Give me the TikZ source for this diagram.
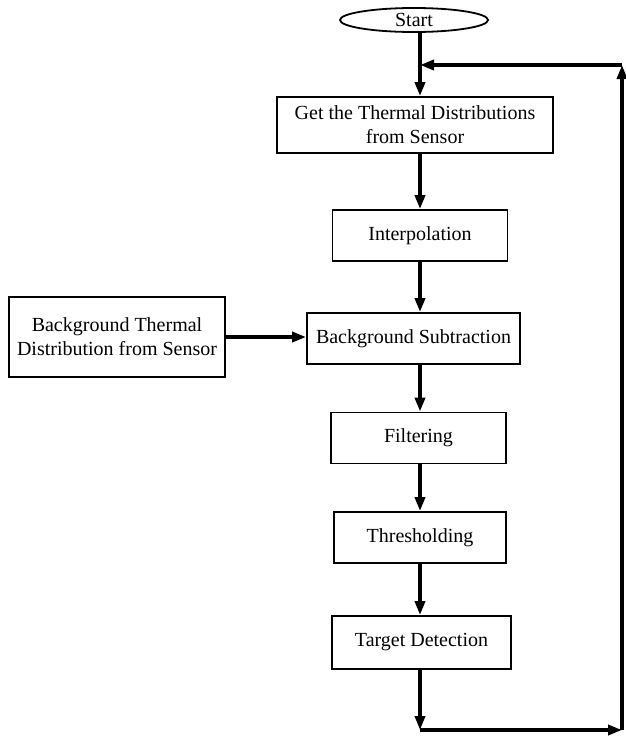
\documentclass[tikz,border=0pt]{standalone}
\usepackage{fontspec}
\setmainfont{Liberation Serif}
\usetikzlibrary{arrows.meta,shapes.geometric}
\begin{document}
\begin{tikzpicture}[x=1pt,y=-1pt,
  box/.style={draw,line width=1.8pt,minimum height=51pt,align=center,inner sep=0pt,font=\fontsize{20}{24}\selectfont},
  flow/.style={line width=3.5pt,-{Triangle[length=14pt,width=10pt]}}]
\useasboundingbox (0,0) rectangle (626,737);
\node[draw,ellipse,line width=1.8pt,minimum width=148pt,minimum height=24pt,inner sep=0pt,font=\fontsize{20}{24}\selectfont] (start) at (414,20) {Start};
\coordinate (j) at (420,65);
\node[box,minimum width=276pt,minimum height=56pt] (get) at (415,125) {Get the Thermal Distributions\\from Sensor};
\node[box,minimum width=175pt] (interp) at (420,235.5) {Interpolation};
\node[box,minimum width=213pt] (bs) at (413.5,338.5) {Background Subtraction};
\node[box,minimum width=216pt,minimum height=80pt] (bg) at (117,337) {Background Thermal\\Distribution from Sensor};
\node[box,minimum width=175pt] (filt) at (418.5,438) {Filtering};
\node[box,minimum width=172pt] (thr) at (420,537.5) {Thresholding};
\node[box,minimum width=179pt,minimum height=53pt] (td) at (421.5,642.5) {Target Detection};
\coordinate (bl) at (420,730);
\coordinate (br) at (622,730);
\coordinate (tr) at (622,65);
\draw[flow] (start.south -| j) -- (get.north -| j);
\draw[flow] (get.south -| j) -- (interp.north -| j);
\draw[flow] (interp.south -| j) -- (bs.north -| j);
\draw[flow] (bg.east) -- (bs.west |- bg.east);
\draw[flow] (bs.south -| j) -- (filt.north -| j);
\draw[flow] (filt.south -| j) -- (thr.north -| j);
\draw[flow] (thr.south -| j) -- (td.north -| j);
\draw[flow] (td.south -| j) -- (bl);
\draw[flow] (bl) -- (br);
\draw[flow] (br) -- (tr);
\draw[flow] (tr) -- (j);
\end{tikzpicture}
\end{document}
